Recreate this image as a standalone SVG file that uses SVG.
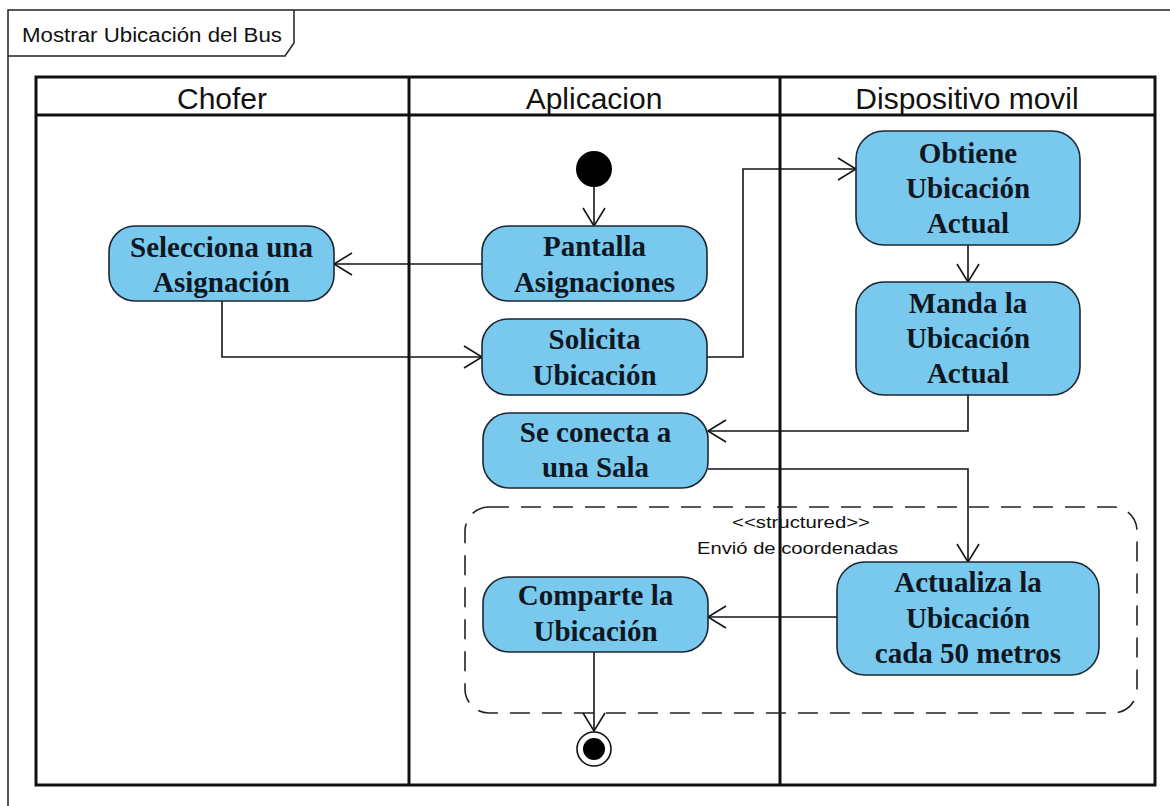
<svg xmlns="http://www.w3.org/2000/svg" width="1170" height="806" viewBox="0 0 1170 806">
  <style>
    .frame { fill: #ffffff; stroke: #222222; stroke-width: 1.5; }
    .lane { fill: none; stroke: #111111; stroke-width: 3; }
    .hdr { font-family: "Liberation Sans", Arial, sans-serif; font-size: 30px; fill: #111111; text-anchor: middle; }
    .act { fill: #79c9ef; stroke: #1c2630; stroke-width: 1.6; }
    .lbl { font-family: "Liberation Serif", "Times New Roman", serif; font-size: 29px; font-weight: bold; fill: #0f1822; text-anchor: middle; }
    .edge { fill: none; stroke: #151515; stroke-width: 1.6; }
    .region { fill: none; stroke: #222222; stroke-width: 1.6; stroke-dasharray: 20 12; }
    .small { font-family: "Liberation Sans", Arial, sans-serif; font-size: 16px; fill: #111111; }
  </style>
  <defs>
    <marker id="open" markerUnits="userSpaceOnUse" markerWidth="22" markerHeight="26" refX="19" refY="12" orient="auto">
      <path d="M1,1 L19,12 L1,23" fill="none" stroke="#151515" stroke-width="1.6"/>
    </marker>
  </defs>

  <!-- frame -->
  <g id="frame">
    <rect class="frame" x="8" y="10" width="1180" height="810"/>
    <path d="M8,56 H285 L294,43 V10" fill="none" stroke="#222222" stroke-width="1.5"/>
    <text x="22" y="42" font-family="Liberation Sans, Arial, sans-serif" font-size="20" fill="#111111" textLength="260" lengthAdjust="spacingAndGlyphs">Mostrar Ubicación del Bus</text>
  </g>

  <!-- swimlanes -->
  <g id="lanes">
    <rect class="lane" x="36" y="77" width="1119" height="708"/>
    <line class="lane" x1="36" y1="115" x2="1155" y2="115"/>
    <line class="lane" x1="409" y1="77" x2="409" y2="785"/>
    <line class="lane" x1="780" y1="77" x2="780" y2="785"/>
    <text class="hdr" x="222" y="108.5">Chofer</text>
    <text class="hdr" x="594" y="108.5">Aplicacion</text>
    <text class="hdr" x="967" y="108.5">Dispositivo movil</text>
  </g>

  <!-- structured region -->
  <g id="structured">
    <rect class="region" x="465" y="507" width="672" height="206" rx="24" ry="24"/>
    <text class="small" x="732" y="528" textLength="138" lengthAdjust="spacingAndGlyphs">&lt;&lt;structured&gt;&gt;</text>
    <text class="small" x="697" y="554" textLength="201" lengthAdjust="spacingAndGlyphs">Envió de coordenadas</text>
  </g>

  <!-- connectors -->
  <g id="connectors">
    <path class="edge" d="M594,187 V226" marker-end="url(#open)"/>
    <path class="edge" d="M482,264 H334" marker-end="url(#open)"/>
    <path class="edge" d="M222,301 V357 H482" marker-end="url(#open)"/>
    <path class="edge" d="M707,357 H743 V169 H856" marker-end="url(#open)"/>
    <path class="edge" d="M968,245 V282" marker-end="url(#open)"/>
    <path class="edge" d="M968,395 V431 H708" marker-end="url(#open)"/>
    <path class="edge" d="M708,469 H968 V562" marker-end="url(#open)"/>
    <path class="edge" d="M837,617 H708" marker-end="url(#open)"/>
    <path class="edge" d="M594,652 V731" marker-end="url(#open)"/>
  </g>

  <!-- nodes -->
  <g id="start">
    <circle cx="594" cy="169" r="18" fill="#000000"/>
  </g>
  <g id="selecciona">
    <rect class="act" x="109" y="226" width="225" height="75" rx="26"/>
    <text class="lbl" x="221.5" y="257">Selecciona una</text>
    <text class="lbl" x="221.5" y="292">Asignación</text>
  </g>
  <g id="pantalla">
    <rect class="act" x="482" y="226" width="225" height="75" rx="26"/>
    <text class="lbl" x="594.5" y="256">Pantalla</text>
    <text class="lbl" x="594.5" y="292">Asignaciones</text>
  </g>
  <g id="solicita">
    <rect class="act" x="482" y="319" width="225" height="76" rx="26"/>
    <text class="lbl" x="594.5" y="349">Solicita</text>
    <text class="lbl" x="594.5" y="385">Ubicación</text>
  </g>
  <g id="obtiene">
    <rect class="act" x="856" y="131" width="224" height="114" rx="28"/>
    <text class="lbl" x="968" y="163">Obtiene</text>
    <text class="lbl" x="968" y="198">Ubicación</text>
    <text class="lbl" x="968" y="233">Actual</text>
  </g>
  <g id="manda">
    <rect class="act" x="856" y="282" width="224" height="113" rx="28"/>
    <text class="lbl" x="968" y="313">Manda la</text>
    <text class="lbl" x="968" y="348">Ubicación</text>
    <text class="lbl" x="968" y="383">Actual</text>
  </g>
  <g id="conecta">
    <rect class="act" x="483" y="413" width="225" height="75" rx="26"/>
    <text class="lbl" x="595.5" y="442">Se conecta a</text>
    <text class="lbl" x="595.5" y="477">una Sala</text>
  </g>
  <g id="comparte">
    <rect class="act" x="483" y="577" width="225" height="75" rx="26"/>
    <text class="lbl" x="595.5" y="605">Comparte la</text>
    <text class="lbl" x="595.5" y="641">Ubicación</text>
  </g>
  <g id="actualiza">
    <rect class="act" x="837" y="562" width="262" height="113" rx="28"/>
    <text class="lbl" x="968" y="592">Actualiza la</text>
    <text class="lbl" x="968" y="628">Ubicación</text>
    <text class="lbl" x="968" y="663">cada 50 metros</text>
  </g>
  <g id="end">
    <circle cx="594" cy="749" r="17" fill="#ffffff" stroke="#111111" stroke-width="1.6"/>
    <circle cx="594" cy="749" r="11" fill="#000000"/>
  </g>
</svg>
